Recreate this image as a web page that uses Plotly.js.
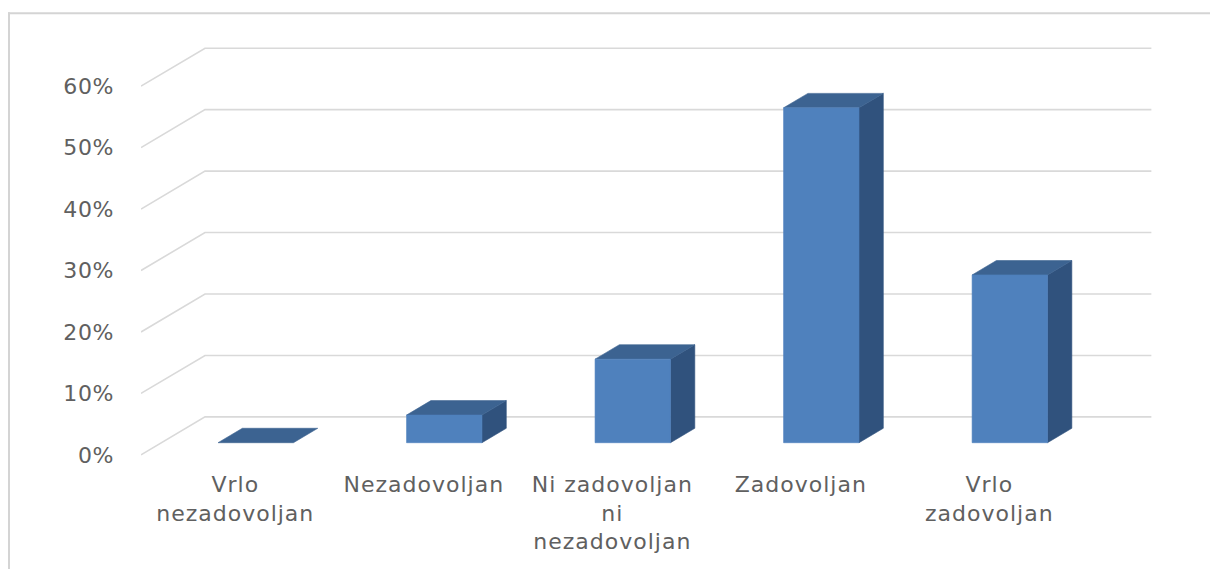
<!DOCTYPE html>
<html><head><meta charset="utf-8">
<script src="https://cdn.plot.ly/plotly-3.0.1.min.js"></script>
<style>html,body{margin:0;padding:0;background:#fff;} #chart{width:1210px;height:569px;}
#chart .xtick text{letter-spacing:1px;}
#chart .ytick text{letter-spacing:0.6px;}
</style>
</head><body><div id="chart"></div>
<script>
// ---- data ----
const categories = ['Vrlo nezadovoljan', 'Nezadovoljan', 'Ni zadovoljan ni nezadovoljan', 'Zadovoljan', 'Vrlo zadovoljan'];
const tickLabels = ['Vrlo<br>nezadovoljan', 'Nezadovoljan', 'Ni zadovoljan<br>ni<br>nezadovoljan', 'Zadovoljan', 'Vrlo<br>zadovoljan'];
const values = [0, 4.5, 13.6, 54.5, 27.3];
const yTickValues = [0, 10, 20, 30, 40, 50, 60];
const yTickLabels = ['0%', '10%', '20%', '30%', '40%', '50%', '60%'];

// ---- geometry / style ----
const W = 1210, H = 569;
const pxPerX = 188.5, pxPerY = 6.15;
const xRange = [-0.5, 4.9], yRange = [-1, 68];
const marginL = 141;
const plotW = (xRange[1] - xRange[0]) * pxPerX;
const marginR = W - marginL - plotW;
const marginT = 455 - yRange[1] * pxPerY;
const plotH = (yRange[1] - yRange[0]) * pxPerY;
const marginB = H - marginT - plotH;

const depthX = 64 / pxPerX, depthY = 38 / pxPerY;
const d0 = 0.32, d1 = 0.70, halfW = 0.2;
const floorL = -0.5, floorR = 4.52;

const gridColor = '#d9d9d9';
const frontColor = '#4f81bd', topColor = '#3c6391', sideColor = '#30527d';
const textColor = '#606060';

const traces = [];

// gridlines (floor slant + back wall)
const gx = [], gy = [];
yTickValues.forEach(t => {
  gx.push(floorL, floorL + depthX, floorR + depthX, null);
  gy.push(t, t + depthY, t + depthY, null);
});
traces.push({x: gx, y: gy, type: 'scatter', mode: 'lines', line: {color: gridColor, width: 1.6},
  hoverinfo: 'skip', showlegend: false, cliponaxis: false});

function poly(xs, ys, color) {
  traces.push({x: xs.concat([xs[0]]), y: ys.concat([ys[0]]), type: 'scatter', mode: 'lines',
    fill: 'toself', fillcolor: color, line: {color: color, width: 0.6},
    hoverinfo: 'skip', showlegend: false});
}

categories.forEach((c, i) => {
  const v = values[i];
  const xl0 = i - halfW + d0 * depthX, xr0 = i + halfW + d0 * depthX;
  const xl1 = i - halfW + d1 * depthX, xr1 = i + halfW + d1 * depthX;
  const yb0 = d0 * depthY, yb1 = d1 * depthY;
  if (v > 0) {
    poly([xr0, xr1, xr1, xr0], [yb0, yb1, v + yb1, v + yb0], sideColor);
  }
  poly([xl0, xr0, xr1, xl1], [v + yb0, v + yb0, v + yb1, v + yb1], topColor);
  if (v > 0) {
    poly([xl0, xr0, xr0, xl0], [yb0, yb0, v + yb0, v + yb0], frontColor);
  }
});

const px2X = px => (px - marginL) / plotW;
const py2Y = py => (marginT + plotH - py) / plotH;

const layout = {
  width: W, height: H,
  margin: {l: marginL, r: marginR, t: marginT, b: marginB, pad: 0},
  paper_bgcolor: '#ffffff', plot_bgcolor: 'rgba(0,0,0,0)',
  font: {family: 'DejaVu Sans', size: 22, color: textColor},
  showlegend: false,
  xaxis: {range: xRange, tickmode: 'array', tickvals: categories.map((c, i) => i), ticktext: tickLabels,
    showgrid: false, zeroline: false, showline: false, ticks: '', fixedrange: true,
    tickfont: {family: 'DejaVu Sans', size: 22, color: textColor}, ticklabelstandoff: 8},
  yaxis: {range: yRange, tickmode: 'array', tickvals: yTickValues, ticktext: yTickLabels,
    showgrid: false, zeroline: false, showline: false, ticks: '', fixedrange: true,
    tickfont: {family: 'DejaVu Sans', size: 22, color: textColor}, ticklabelstandoff: 26},
  shapes: [
    {type: 'line', xref: 'paper', yref: 'paper', x0: px2X(8), x1: px2X(1212), y0: py2Y(13), y1: py2Y(13),
      line: {color: '#d4d4d4', width: 2}},
    {type: 'line', xref: 'paper', yref: 'paper', x0: px2X(9), x1: px2X(9), y0: py2Y(12), y1: py2Y(571),
      line: {color: '#d4d4d4', width: 2}}
  ]
};

Plotly.newPlot('chart', traces, layout, {displayModeBar: false, staticPlot: true});
</script>
</body></html>
